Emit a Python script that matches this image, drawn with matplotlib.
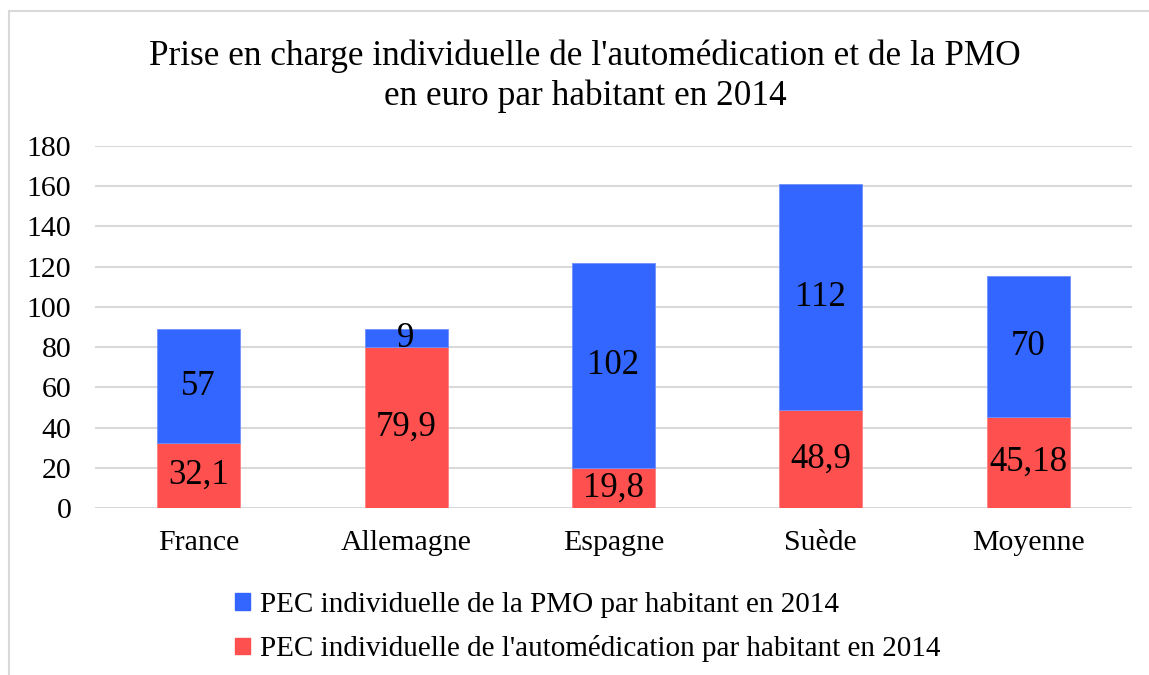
import matplotlib.pyplot as plt
from matplotlib.patches import Rectangle, Patch

plt.rcParams['font.family'] = ['Liberation Serif', 'DejaVu Serif']

pays = ['France', 'Allemagne', 'Espagne', 'Suède', 'Moyenne']
automedication = [32.1, 79.9, 19.8, 48.9, 45.18]
pmo = [57, 9, 102, 112, 70]
labels_auto = ['32,1', '79,9', '19,8', '48,9', '45,18']
labels_pmo = ['57', '9', '102', '112', '70']

bleu = '#3366FF'
rouge = '#FF5050'

fig = plt.figure(figsize=(11.49, 6.75), dpi=100)
ax = fig.add_axes([0.0827, 0.2474, 0.9023, 0.5363])

x = range(len(pays))
b1 = ax.bar(x, automedication, width=0.4, color=rouge, edgecolor='#ff8080', linewidth=0.6, zorder=3)
b2 = ax.bar(x, pmo, width=0.4, bottom=automedication, color=bleu, edgecolor='#6f8fff', linewidth=0.6, zorder=3)
ax.bar_label(b1, labels=labels_auto, label_type='center', fontsize=25)
ax.bar_label(b2, labels=labels_pmo, label_type='center', fontsize=25)

ax.set_xlim(-0.5, len(pays) - 0.5)
ax.set_ylim(0, 180)
ax.set_yticks(range(0, 181, 20))
ax.set_xticks(list(x))
ax.set_xticklabels(pays)
ax.tick_params(axis='both', length=0, labelsize=21.5)
ax.tick_params(axis='x', pad=16)
ax.tick_params(axis='y', pad=17)
ax.grid(axis='y', color='#d9d9d9', linewidth=1.5, zorder=0)
for s in ax.spines.values():
    s.set_visible(False)

fig.text(0.509, 0.887, "Prise en charge individuelle de l'automédication et de la PMO\nen euro par habitant en 2014",
         ha='center', va='center', fontsize=25.4, linespacing=1.28)

handles = [Patch(color=bleu), Patch(color=rouge)]
noms = ['PEC individuelle de la PMO par habitant en 2014',
        "PEC individuelle de l'automédication par habitant en 2014"]
fig.legend(handles, noms, loc='upper left', bbox_to_anchor=(0.182, 0.162), frameon=False,
           fontsize=21, handlelength=0.5, handleheight=0.5, handletextpad=0.35, labelspacing=0.6)

fig.add_artist(Rectangle((9 / 1149, -0.1), 1.2, 1 - 11 / 675 + 0.1, transform=fig.transFigure,
                         fill=False, edgecolor='#d9d9d9', linewidth=1.5))

fig.savefig('out.png', dpi=100)
